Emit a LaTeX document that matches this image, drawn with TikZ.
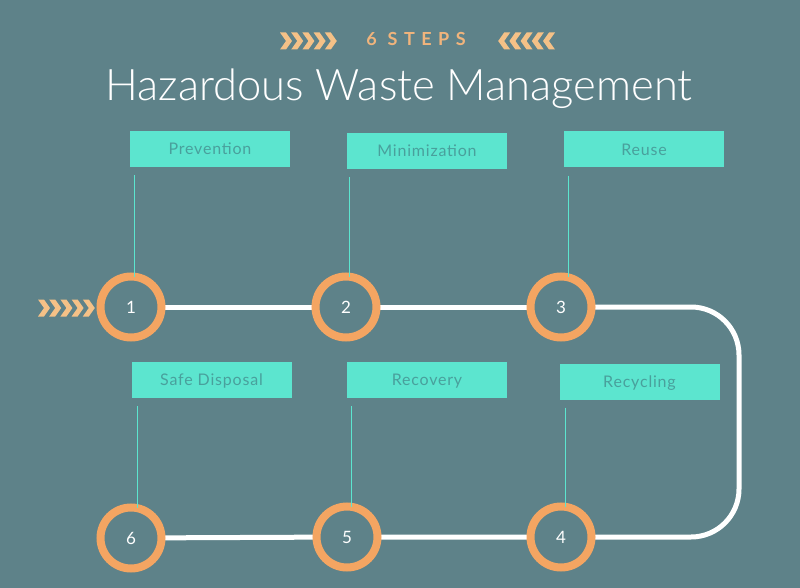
\documentclass[tikz,border=0pt]{standalone}
\usepackage{fontspec}
\setmainfont{Lato}
\newfontfamily\titlefont{Lato Light}
\definecolor{bgc}{HTML}{5E8289}
\definecolor{boxc}{HTML}{5CE5CF}
\definecolor{boxtext}{HTML}{49A09C}
\definecolor{ringc}{HTML}{F4A562}
\definecolor{chevc}{HTML}{F5C187}
\definecolor{stepc}{HTML}{F0B47C}
\begin{document}
\begin{tikzpicture}[x=1pt,y=-1pt,
  ring/.style={circle, draw=ringc, fill=bgc, line width=8pt, minimum size=61pt, inner sep=0pt,
    font=\fontsize{17}{17}\selectfont, text=white},
  labelbox/.style={fill=boxc, minimum width=160pt, minimum height=36pt, inner sep=0pt,
    text height=11.5pt, text depth=0pt,
    font=\fontsize{16}{16}\selectfont\addfontfeature{LetterSpace=5}, text=boxtext},
  pathline/.style={draw=white, line width=5pt},
  stem/.style={draw=boxc, line width=1.3pt},
  chevr/.pic={\fill[chevc] (0,-8.5) -- (6,-8.5) -- (12,0) -- (6,8.5) -- (0,8.5) -- (6,0) -- cycle;}]
\fill[bgc] (0,0) rectangle (800,588);
\useasboundingbox (0,0) rectangle (800,588);

% header
\foreach \i in {0,...,4} {\pic at (280+\i*11.2,41) {chevr};}
\foreach \i in {0,...,4} {\pic[xscale=-1] at (555-\i*11.2,41) {chevr};}
\node[anchor=base, text=stepc, font=\fontsize{18}{18}\selectfont\bfseries\addfontfeature{LetterSpace=36}] (steps) at (416,46) {6 STEPS};
\node[anchor=base, text=white, font=\titlefont\fontsize{43.5}{44}\selectfont] (title) at (399,101) {Hazardous Waste Management};

% path
\coordinate (p1) at (131,307);
\coordinate (p2) at (346,307);
\coordinate (p3) at (561,307);
\coordinate (p4) at (561,537);
\coordinate (p5) at (347,537);
\coordinate (p6) at (131,538);
\coordinate (ne) at (739,307);
\coordinate (se) at (739,537);
\draw[pathline] (p1) -- (p2) -- (p3);
\draw[pathline, rounded corners=48pt] (p3) -- (ne) -- (se) -- (p4);
\draw[pathline] (p4) -- (p5) -- (p6);
\foreach \i in {1,...,6} {\node[ring] (c\i) at (p\i) {\i};}

% chevrons before step 1
\foreach \i in {0,...,4} {\pic at (38+\i*11.2,308) {chevr};}

% label boxes
\node[labelbox] (b1) at (210,149) {Prevention};
\node[labelbox] (b2) at (427,151) {Minimization};
\node[labelbox] (b3) at (644,149.5) {Reuse};
\node[labelbox] (b6) at (211.5,380) {Safe Disposal};
\node[labelbox] (b5) at (427,380) {Recovery};
\node[labelbox] (b4) at (639.5,381.5) {Recycling};

% stems
\foreach \i/\dx in {1/5, 2/3, 3/5, 4/6, 5/5, 6/6} {
  \path (c\i.north) ++(0,4) coordinate (c\i t);
  \draw[stem] (b\i.south west) ++(\dx,8) coordinate (b\i s) -- (b\i s |- c\i t);
}
\end{tikzpicture}
\end{document}
